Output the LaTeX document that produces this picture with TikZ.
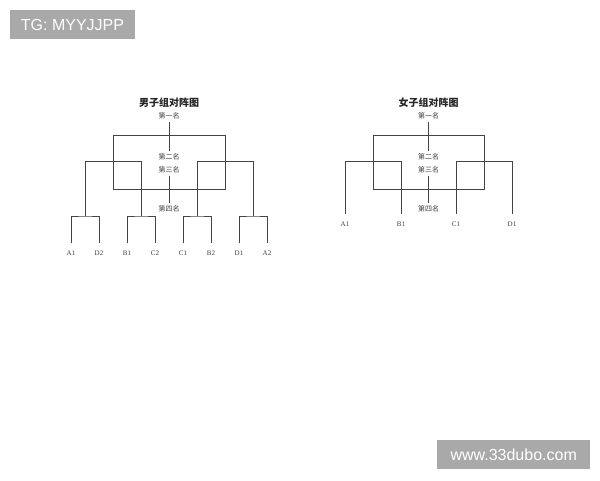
\documentclass[tikz,border=0pt]{standalone}
\usepackage{fontspec}
\setmainfont{Liberation Serif}
\setsansfont{Liberation Sans}
\newfontfamily\cjk{Noto Sans CJK SC}
\definecolor{wmgray}{HTML}{A9A9A9}
\definecolor{linegray}{HTML}{444444}
\begin{document}
\begin{tikzpicture}[x=1pt,y=-1pt,
  bline/.style={draw=linegray,line width=0.8pt},
  rank/.style={font=\cjk\fontsize{7}{7}\selectfont,text=black!75,inner sep=2.5pt},
  ttl/.style={font=\cjk\bfseries\fontsize{10}{10}\selectfont,text=black!85},
  leaf/.style={font=\fontsize{7}{7}\selectfont,text=black!75,anchor=north,inner xsep=0pt,inner ysep=7.5pt,text height=4.8pt,text depth=0pt},
  wm/.style={fill=wmgray,text=white,font=\sffamily\fontsize{16}{16}\selectfont,inner sep=0pt,minimum height=29.3pt,align=center}
]
\useasboundingbox (0,0) rectangle (600,480);
\fill[white] (0,0) rectangle (600,480);

% watermarks
\node[wm,minimum width=125pt] (wm1) at (72.5,24.7) {TG: MYYJJPP};
\node[wm,minimum width=152.7pt] (wm2) at (513.7,454.7) {www.33dubo.com};

% ===== Men =====
\node[ttl] (mt) at (169,103) {男子组对阵图};
\node[rank] (m1) at (169,116) {第一名};
\node[rank] (m2) at (169,156.7) {第二名};
\node[rank] (m3) at (169,170) {第三名};
\node[rank] (m4) at (169,209.3) {第四名};
\draw[bline] (m1) -- (m2);
\draw[bline] (m3) -- (m4);

\foreach \n/\x/\t in {ma/71/A1, mb/99/D2, mc/127/B1, md/155/C2, me/183/C1, mf/211/B2, mg/239/D1, mh/267/A2}
  \node[leaf] (\n) at (\x,243.3) {\t};

\coordinate (mp1) at (85,216);
\coordinate (mp2) at (141,216);
\coordinate (mp3) at (197,216);
\coordinate (mp4) at (253,216);
\draw[bline] (ma.north) |- (mp1) -| (mb.north);
\draw[bline] (mc.north) |- (mp2) -| (md.north);
\draw[bline] (me.north) |- (mp3) -| (mf.north);
\draw[bline] (mg.north) |- (mp4) -| (mh.north);

\coordinate (mq1) at (113,161.7);
\coordinate (mq2) at (225,161.7);
\draw[bline] (mp1) |- (mq1) -| (mp2);
\draw[bline] (mp3) |- (mq2) -| (mp4);

\coordinate (mb1) at (113,135.7);
\coordinate (mb2) at (225,189.3);
\draw[bline] (mb1) rectangle (mb2);

% ===== Women =====
\node[ttl] (wt) at (428.5,103) {女子组对阵图};
\node[rank] (w1) at (428.5,116) {第一名};
\node[rank] (w2) at (428.5,156.7) {第二名};
\node[rank] (w3) at (428.5,170) {第三名};
\node[rank] (w4) at (428.5,209.3) {第四名};
\draw[bline] (w1) -- (w2);
\draw[bline] (w3) -- (w4);

\foreach \n/\x/\t in {wa/345/A1, wb/401/B1, wc/456/C1, wd/512/D1}
  \node[leaf] (\n) at (\x,214) {\t};

\coordinate (wq1) at (373,161.7);
\coordinate (wq2) at (484,161.7);
\draw[bline] (wa.north) |- (wq1) -| (wb.north);
\draw[bline] (wc.north) |- (wq2) -| (wd.north);

\coordinate (wb1) at (373,135.7);
\coordinate (wb2) at (484,189.3);
\draw[bline] (wb1) rectangle (wb2);
\end{tikzpicture}
\end{document}
